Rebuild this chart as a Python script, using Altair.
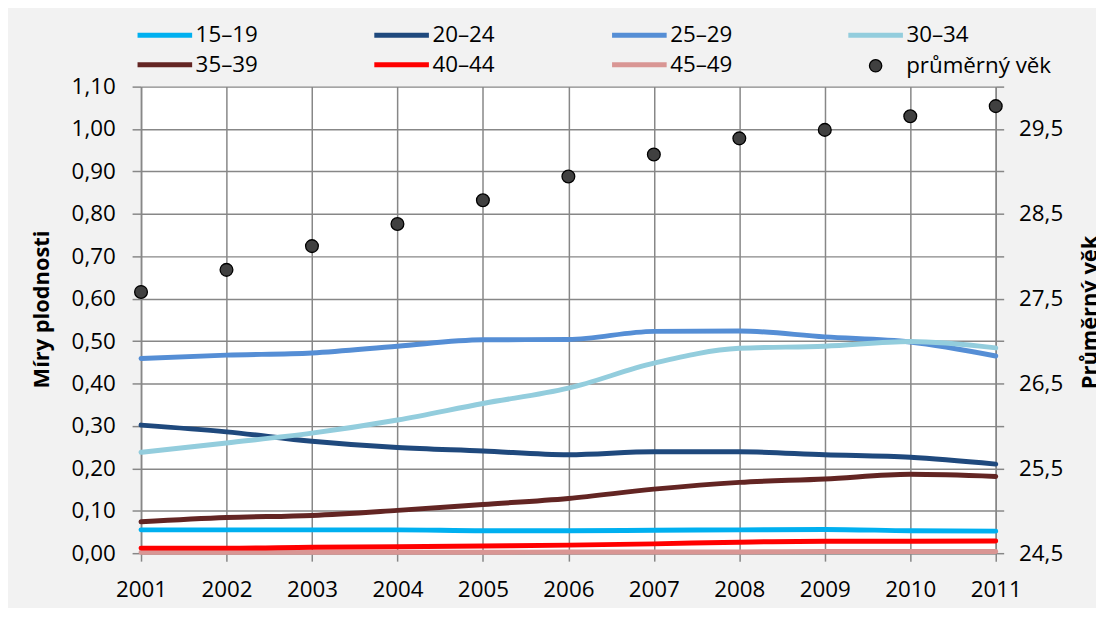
import altair as alt
import pandas as pd

# ---------------- data ----------------
years = [2001, 2002, 2003, 2004, 2005, 2006, 2007, 2008, 2009, 2010, 2011]

rate_15_19 = [0.055, 0.055, 0.055, 0.055, 0.053, 0.053, 0.054, 0.055, 0.056, 0.053, 0.052]
rate_20_24 = [0.302, 0.286, 0.264, 0.249, 0.241, 0.232, 0.239, 0.239, 0.232, 0.226, 0.210]
rate_25_29 = [0.459, 0.467, 0.472, 0.488, 0.503, 0.504, 0.523, 0.524, 0.510, 0.498, 0.465]
rate_30_34 = [0.238, 0.260, 0.283, 0.314, 0.353, 0.389, 0.448, 0.483, 0.488, 0.499, 0.484]
rate_35_39 = [0.074, 0.084, 0.089, 0.101, 0.115, 0.129, 0.151, 0.167, 0.175, 0.186, 0.181]
rate_40_44 = [0.012, 0.012, 0.014, 0.015, 0.017, 0.019, 0.022, 0.026, 0.028, 0.028, 0.029]
rate_45_49 = [0.002, 0.002, 0.002, 0.002, 0.002, 0.003, 0.003, 0.003, 0.004, 0.004, 0.004]

mean_age = [27.58, 27.84, 28.12, 28.38, 28.66, 28.94, 29.20, 29.39, 29.49, 29.65, 29.77]

series_names = ["15–19", "20–24", "25–29", "30–34", "35–39", "40–44", "45–49"]
series_values = [rate_15_19, rate_20_24, rate_25_29, rate_30_34, rate_35_39, rate_40_44, rate_45_49]
series_colors = ["#00b0f0", "#1f497d", "#558ed5", "#93cddd", "#632523", "#ff0000", "#d99694"]
age_name = "průměrný věk"
age_color = "#404040"

left_ticks = [0.0, 0.1, 0.2, 0.3, 0.4, 0.5, 0.6, 0.7, 0.8, 0.9, 1.0, 1.1]
right_ticks = [24.5, 25.0, 25.5, 26.0, 26.5, 27.0, 27.5, 28.0, 28.5, 29.0, 29.5, 30.0]

left_title = "Míry plodnosti"
right_title = "Průměrný věk"

# legend grid (column, row) of each series entry
legend_cell = {
    "15–19": (0, 0), "20–24": (1, 0), "25–29": (2, 0), "30–34": (3, 0),
    "35–39": (0, 1), "40–44": (1, 1), "45–49": (2, 1),
}

# ---------------- style ----------------
FONT = "Open Sans"
GRID = "#878787"
W, H = 861, 470
leg_col_x = [-6, 232.5, 472, 710]
leg_row_y = [-81.7, -52]

x_enc = alt.X(
    "year:Q",
    scale=alt.Scale(domain=[years[0], years[-1]], nice=False, zero=False),
    axis=alt.Axis(values=years, format="d", title=None, grid=True,
                  tickSize=8, labelPadding=18, labelFlush=False),
)

y_left = alt.Y(
    "value:Q",
    scale=alt.Scale(domain=[left_ticks[0], left_ticks[-1]], nice=False, zero=True),
    axis=alt.Axis(values=left_ticks, grid=True, title=left_title,
                  labelExpr="replace(format(datum.value, '.2f'), '.', ',')",
                  tickSize=9, labelPadding=17,
                  titleX=-88, titleY=224, titleAngle=270, titleBaseline="bottom",
                  titleAlign="center"),
)

draw_order = ["45–49", "40–44", "35–39", "15–19", "20–24", "25–29", "30–34"]

line_layers = []
for name in draw_order:
    i = series_names.index(name)
    df = pd.DataFrame({"year": years, "value": series_values[i], "series": name})
    cx, cy = legend_cell[name]
    line_layers.append(
        alt.Chart(df).mark_line(strokeWidth=5, interpolate="monotone", strokeCap="round").encode(
            x=x_enc,
            y=y_left,
            color=alt.Color(
                "series:N",
                scale=alt.Scale(domain=[name], range=[series_colors[i]]),
                legend=alt.Legend(
                    title=None, orient="none",
                    legendX=leg_col_x[cx], legendY=leg_row_y[cy],
                    symbolType="stroke", symbolSize=3025, symbolStrokeWidth=5,
                    labelOffset=1,
                ),
            ),
        )
    )

lines = alt.layer(*line_layers).resolve_scale(color="independent")

age_df = pd.DataFrame({"year": years, "age": mean_age, "series": age_name})
points = alt.Chart(age_df).mark_point(
    filled=True, size=165, stroke="black", strokeWidth=1.3, opacity=1
).encode(
    x=x_enc,
    y=alt.Y(
        "age:Q",
        scale=alt.Scale(domain=[right_ticks[0], right_ticks[-1]], nice=False, zero=False),
        axis=alt.Axis(orient="right", values=right_ticks, grid=False, title=right_title,
                      labelExpr="datum.value % 1 == 0.5 ? replace(format(datum.value, '.1f'), '.', ',') : ''",
                      tickSize=8, labelPadding=15,
                      titleX=85, titleY=227, titleAngle=270, titleBaseline="top",
                      titleAlign="center"),
    ),
    color=alt.Color(
        "series:N",
        scale=alt.Scale(domain=[age_name], range=[age_color]),
        legend=alt.Legend(
            title=None, orient="none", legendX=728.75, legendY=-32.25,
            symbolType="circle", symbolSize=154, symbolStrokeColor="black",
            symbolStrokeWidth=1.3, labelOffset=19.5,
        ),
    ),
)

chart = alt.layer(lines, points).resolve_scale(
    y="independent", color="independent"
).properties(
    width=W, height=H,
    autosize=alt.AutoSizeParams(type="none"),
    padding={"left": 134, "top": 77, "right": 101, "bottom": 53},
    background="#f2f2f2",
).configure_view(
    fill="white", strokeWidth=0
).configure_axis(
    labelFont=FONT, labelFontSize=22.5, labelColor="black",
    titleFont=FONT, titleFontSize=22, titleFontWeight="bold", titleColor="black",
    domainColor=GRID, domainWidth=1.5, tickColor=GRID, tickWidth=1.5,
    gridColor=GRID, gridWidth=1.5,
).configure_legend(
    labelFont=FONT, labelFontSize=22.5, labelColor="black", labelLimit=400, padding=0,
)

chart.save("out.html", embed_options={"renderer": "svg", "actions": False})
